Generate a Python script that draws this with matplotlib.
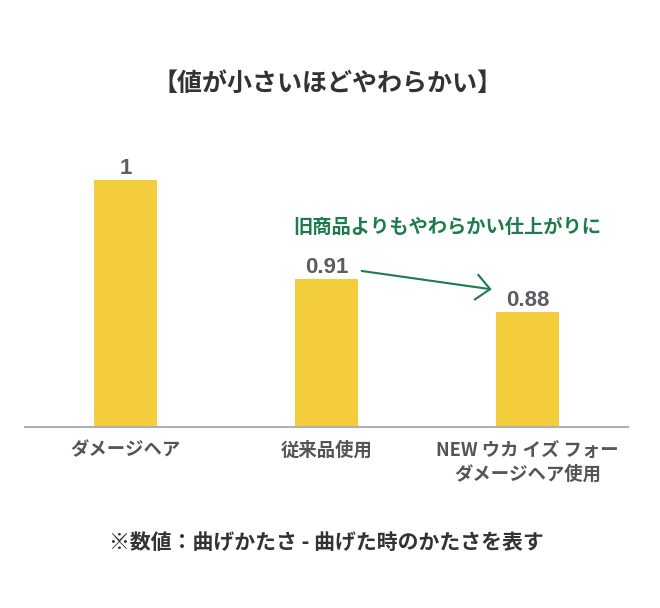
import matplotlib
matplotlib.use('Agg')
import matplotlib.pyplot as plt

plt.rcParams['font.family'] = ['Noto Sans CJK JP', 'DejaVu Sans']

# データ
categories = ['ダメージヘア', '従来品使用', 'NEW ウカ イズ フォー\nダメージヘア使用']
values = [1, 0.91, 0.88]
value_labels = ['1', '0.91', '0.88']

bar_color = '#f4cd3c'
label_gray = '#5c5c63'
green = '#1e7b4b'

fig = plt.figure(figsize=(6.6, 6.08), dpi=100)
ax = fig.add_axes([25 / 660, 1 - 426.7 / 608, 603 / 660, (426.7 - 140) / 608])

x = list(range(len(categories)))
ax.bar(x, values, width=0.315, color=bar_color, zorder=2)
ax.set_xlim(-0.5, 2.5)
y0 = 0.776
ax.set_ylim(y0, y0 + (426.7 - 140) / 1100.6)

# 値ラベル
for xi, v, s in zip(x, values, value_labels):
    ax.annotate(s, (xi, v), xytext=(0, 4.3), textcoords='offset points',
                ha='center', va='baseline', fontsize=16, fontweight='bold',
                color=label_gray, family=['Liberation Sans', 'DejaVu Sans'])

# 軸
for side in ['top', 'right', 'left']:
    ax.spines[side].set_visible(False)
ax.spines['bottom'].set_color('#b0b0b0')
ax.spines['bottom'].set_linewidth(1.5)
ax.set_yticks([])
ax.set_xticks(x)
ax.set_xticklabels(categories, fontsize=13.2, color='#555555', fontweight='bold',
                   linespacing=1.33)
ax.tick_params(axis='x', length=0, pad=10)

# 矢印と注釈
ax.annotate('', xy=(1.822, 0.9008), xytext=(1.175, 0.9175),
            arrowprops=dict(arrowstyle='->,head_length=0.5,head_width=0.45',
                            color=green, lw=1.5, mutation_scale=20,
                            shrinkA=0, shrinkB=0))
fig.text(447.5 / 660, 1 - 227 / 608, '旧商品よりもやわらかい仕上がりに',
         ha='center', va='center', fontsize=13.9, fontweight='bold', color=green)

# タイトル・注記
fig.text(327.5 / 660, 1 - 84 / 608, '【値が小さいほどやわらかい】',
         ha='center', va='center', fontsize=18, fontweight='bold', color='#333333')
fig.text(326.5 / 660, 1 - 542 / 608, '※数値：曲げかたさ - 曲げた時のかたさを表す',
         ha='center', va='center', fontsize=15, fontweight='bold', color='#333333')

fig.savefig('out.png', dpi=100)
